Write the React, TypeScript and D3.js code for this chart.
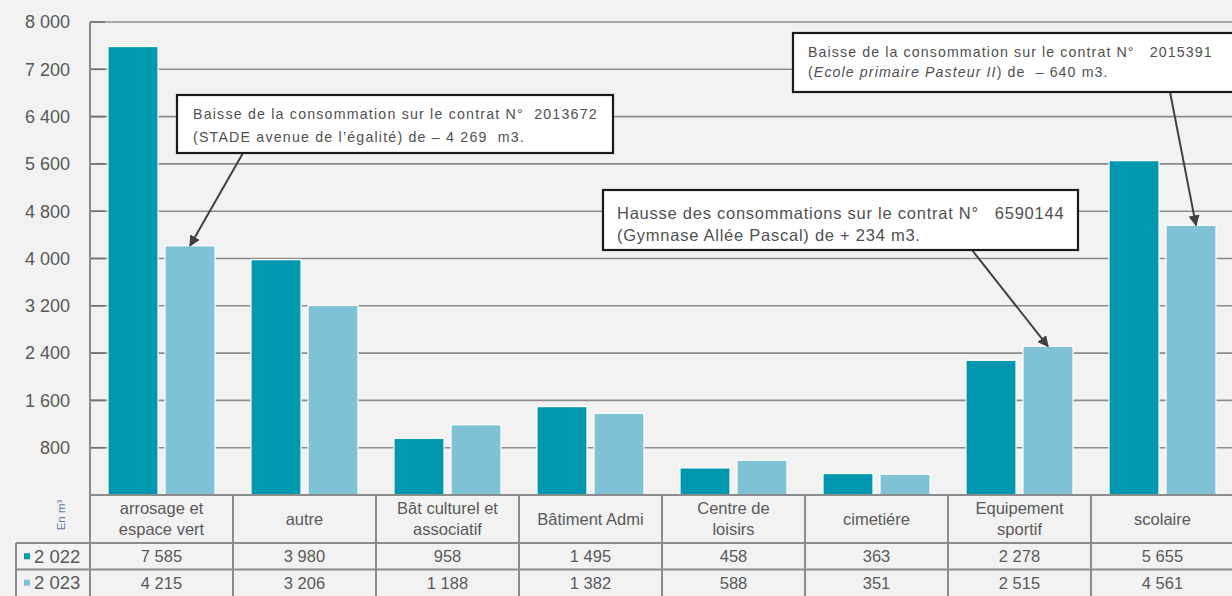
import React from "react";
import * as d3 from "d3";

const categories: string[][] = [
  ["arrosage et", "espace vert"],
  ["autre"],
  ["Bât culturel et", "associatif"],
  ["Bâtiment Admi"],
  ["Centre de", "loisirs"],
  ["cimetiére"],
  ["Equipement", "sportif"],
  ["scolaire"],
];
const seriesNames = ["2 022", "2 023"];
const values2022 = [7585, 3980, 958, 1495, 458, 363, 2278, 5655];
const values2023 = [4215, 3206, 1188, 1382, 588, 351, 2515, 4561];
const yTicks = [800, 1600, 2400, 3200, 4000, 4800, 5600, 6400, 7200, 8000];

const annotations = [
  {
    lines: [
      "Baisse de la consommation sur le contrat N°  2013672",
      "(STADE avenue de l’égalité) de – 4 269  m3.",
    ],
    italic: [false, false],
    cat: 0,
    series: 1,
  },
  {
    lines: [
      "Baisse de la consommation sur le contrat N°   2015391",
      "(Ecole primaire Pasteur II) de  – 640 m3.",
    ],
    italic: [false, true],
    cat: 7,
    series: 1,
  },
  {
    lines: [
      "Hausse des consommations sur le contrat N°   6590144",
      "(Gymnase Allée Pascal) de + 234 m3.",
    ],
    italic: [false, false],
    cat: 6,
    series: 1,
  },
];
// box layout and text style for each annotation
const boxes = [
  { x: 177, y: 95, w: 436, h: 58, ax: 243, ay: 153, tx: 193, l1: 114, lh: 23, fs: 14.2, ls: 1.2, dx: 0 },
  { x: 793, y: 33, w: 445, h: 59, ax: 1170, ay: 92, tx: 808, l1: 52, lh: 20.5, fs: 14.2, ls: 1.1, dx: 5 },
  { x: 603, y: 190, w: 475, h: 60, ax: 972, ay: 250, tx: 617, l1: 213, lh: 22, fs: 16.5, ls: 0.75, dx: 0 },
];

const COLORS = ["#0098AF", "#7FC1D5"];
const W = 1232;
const H = 596;
const plotLeft = 90;
const plotTop = 22;
const plotBottom = 495;
const headerBottom = 543;
const rowH = 26.5;
const fmt = (v: number) => d3.format(",")(v).replace(/,/g, " ");

export default function App() {
  const x = d3
    .scaleBand<number>()
    .domain(categories.map((_, i) => i))
    .range([plotLeft, plotLeft + 143 * 8])
    .paddingInner(0)
    .paddingOuter(0);
  const y = d3.scaleLinear().domain([0, 8000]).range([plotBottom, plotTop]);
  const bw = x.bandwidth();
  const barW = 50;
  const gap = 7;
  const off = (bw - 2 * barW - gap) / 2;
  const barX = (c: number, s: number) => (x(c) as number) + off + s * (barW + gap);
  const series = [values2022, values2023];
  const font = "'Liberation Sans', Arial, sans-serif";
  const textCol = "#595959";
  const lineCol = "#8c8c8c";

  return (
    <svg
      width={W}
      height={H}
      style={{ position: "absolute", left: 0, top: 0, background: "#f2f2f2" }}
      fontFamily={font}
    >
      <defs>
        <marker
          id="arr"
          viewBox="0 0 10 10"
          refX="9"
          refY="5"
          markerWidth="5.5"
          markerHeight="5.5"
          orient="auto"
        >
          <path d="M0,0 L10,5 L0,10 z" fill="#404040" />
        </marker>
      </defs>
      <rect x={0} y={0} width={W} height={H} fill="#f2f2f2" />
      {yTicks.map((t) => (
        <line
          key={t}
          x1={plotLeft}
          x2={W}
          y1={y(t)}
          y2={y(t)}
          stroke={lineCol}
          strokeWidth={1.6}
        />
      ))}
      {yTicks.map((t) => (
        <line
          key={"tk" + t}
          x1={plotLeft}
          x2={plotLeft + 15}
          y1={y(t)}
          y2={y(t)}
          stroke="#707070"
          strokeWidth={1.6}
        />
      ))}
      <line x1={plotLeft} x2={plotLeft} y1={plotTop} y2={plotBottom} stroke={lineCol} strokeWidth={2} />
      {yTicks.map((t) => (
        <text
          key={"yl" + t}
          x={70}
          y={y(t)}
          dy="0.35em"
          textAnchor="end"
          fontSize={18}
          fill={textCol}
        >
          {fmt(t)}
        </text>
      ))}
      {series.map((vals, s) =>
        vals.map((v, c) => (
          <rect
            key={s + "-" + c}
            x={barX(c, s)}
            y={y(v)}
            width={barW}
            height={plotBottom - y(v)}
            fill={COLORS[s]}
            stroke="#ffffff"
            strokeWidth={1.2}
          />
        ))
      )}
      <g>
        <line x1={plotLeft} x2={W} y1={plotBottom} y2={plotBottom} stroke={lineCol} strokeWidth={2} />
        <line x1={16} x2={W} y1={headerBottom} y2={headerBottom} stroke={lineCol} strokeWidth={2} />
        <line x1={16} x2={W} y1={headerBottom + rowH} y2={headerBottom + rowH} stroke={lineCol} strokeWidth={2} />
        <line x1={16} x2={16} y1={headerBottom} y2={H} stroke={lineCol} strokeWidth={2} />
        <line x1={plotLeft} x2={plotLeft} y1={plotBottom} y2={H} stroke={lineCol} strokeWidth={2} />
        {categories.map((_, c) => (
          <line
            key={"cl" + c}
            x1={(x(c) as number) + bw}
            x2={(x(c) as number) + bw}
            y1={plotBottom}
            y2={H}
            stroke={lineCol}
            strokeWidth={2}
          />
        ))}
        {categories.map((lines, c) => {
          const cx = (x(c) as number) + bw / 2;
          const mid = (plotBottom + headerBottom) / 2;
          return (
            <text key={"cat" + c} x={cx} textAnchor="middle" fontSize={16.5} fill={textCol}>
              {lines.map((l, i) => (
                <tspan key={i} x={cx} y={mid + (i - (lines.length - 1) / 2) * 21} dy="0.35em">
                  {l}
                </tspan>
              ))}
            </text>
          );
        })}
        {series.map((vals, s) =>
          vals.map((v, c) => (
            <text
              key={"v" + s + c}
              x={(x(c) as number) + bw / 2}
              y={headerBottom + rowH * s + rowH / 2}
              dy="0.35em"
              textAnchor="middle"
              fontSize={16.5}
              fill={textCol}
            >
              {fmt(v)}
            </text>
          ))
        )}
        {seriesNames.map((n, s) => (
          <g key={"lg" + s}>
            <rect
              x={24}
              y={headerBottom + rowH * s + rowH / 2 - 3}
              width={6}
              height={6}
              fill={COLORS[s]}
            />
            <text
              x={34}
              y={headerBottom + rowH * s + rowH / 2}
              dy="0.35em"
              fontSize={18.5}
              fill={textCol}
            >
              {n}
            </text>
          </g>
        ))}
        <text
          transform={`translate(61,${(plotBottom + headerBottom) / 2 - 4}) rotate(-90)`}
          textAnchor="middle"
          dy="0.35em"
          fontSize={11.5}
          fill="#5b7ea8"
        >
          En m³
        </text>
      </g>
      {annotations.map((a, i) => {
        const b = boxes[i];
        const tx = barX(a.cat, a.series) + barW / 2 + b.dx;
        const ty = y(series[a.series][a.cat]);
        return (
          <g key={"an" + i}>
            <line
              x1={b.ax}
              y1={b.ay}
              x2={tx}
              y2={ty}
              stroke="#404040"
              strokeWidth={2}
              markerEnd="url(#arr)"
            />
            <rect
              x={b.x}
              y={b.y}
              width={b.w}
              height={b.h}
              fill="#ffffff"
              stroke="#1a1a1a"
              strokeWidth={2.2}
            />
            {a.lines.map((l, j) => (
              <text
                key={j}
                x={b.tx}
                y={b.l1 + j * b.lh}
                dy="0.35em"
                fontSize={b.fs}
                fill="#505050"
                letterSpacing={b.ls}
                style={{ whiteSpace: "pre" }}
              >
                {a.italic[j] ? (
                  <>
                    (<tspan fontStyle="italic">{l.slice(1, l.indexOf(")"))}</tspan>
                    {l.slice(l.indexOf(")"))}
                  </>
                ) : (
                  l
                )}
              </text>
            ))}
          </g>
        );
      })}
    </svg>
  );
}
